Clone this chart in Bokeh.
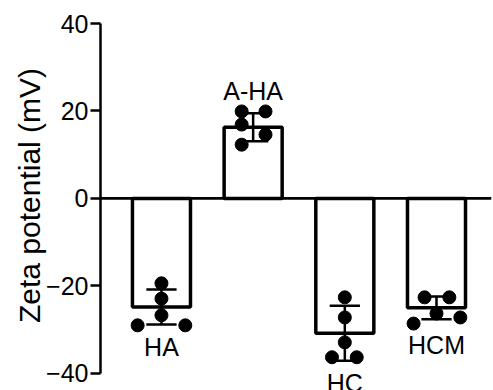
from bokeh.plotting import figure
from bokeh.models import ColumnDataSource, FixedTicker, Span, Range1d
from bokeh.core.properties import value
from bokeh.embed import file_html
from bokeh.resources import INLINE

# ---- data ----
categories = ["HA", "A-HA", "HC", "HCM"]
means = [-24.8, 16.3, -30.8, -25.0]
sds = [4.0, 3.2, 6.3, 2.6]
points_HA = [-19.4, -22.9, -26.7, -29.0, -29.0]
points_AHA = [19.9, 19.9, 16.9, 14.6, 12.3]
points_HC = [-22.6, -27.2, -32.9, -36.3, -36.3]
points_HCM = [-22.6, -22.6, -26.3, -27.2, -28.6]
y_ticks = [-40, -20, 0, 20, 40]

# ---- styling / layout helpers (not data) ----
jitter = [
    [0, 0, 0, -0.26, 0.26],
    [-0.125, 0.135, -0.125, 0.135, -0.125],
    [0, 0, 0, -0.14, 0.13],
    [-0.13, 0.14, 0, 0.26, -0.25],
]
all_points = [points_HA, points_AHA, points_HC, points_HCM]
FONT = "Liberation Sans"

xs = list(range(len(categories)))

p = figure(width=493, height=390, output_backend="svg", toolbar_location=None,
           x_range=Range1d(-0.665, 3.6), y_range=Range1d(-43.9, 45.26),
           min_border_left=100, min_border_right=2, min_border_top=0, min_border_bottom=0)
p.outline_line_color = None
p.xgrid.visible = False
p.ygrid.visible = False
p.xaxis.visible = False
p.background_fill_color = "white"
p.border_fill_color = "white"

# bars
bar_src = ColumnDataSource(dict(x=xs, top=means))
p.vbar(x="x", top="top", bottom=0, width=0.633, source=bar_src,
       fill_color="white", line_color="black", line_width=3.5)

# zero line
p.add_layout(Span(location=0, dimension="width", line_color="black", line_width=2.7))

# error bars
lo = [m - s for m, s in zip(means, sds)]
hi = [m + s for m, s in zip(means, sds)]
cap = 0.165
p.segment(x0=xs, x1=xs, y0=lo, y1=hi, line_color="black", line_width=2.5)
p.segment(x0=[x - cap for x in xs], x1=[x + cap for x in xs], y0=lo, y1=lo,
          line_color="black", line_width=2.5)
p.segment(x0=[x - cap for x in xs], x1=[x + cap for x in xs], y0=hi, y1=hi,
          line_color="black", line_width=2.5)

# points
px, py = [], []
for i, (pts, jit) in enumerate(zip(all_points, jitter)):
    for v, j in zip(pts, jit):
        px.append(i + j)
        py.append(v)
p.scatter(px, py, size=13, fill_color="black", line_color="black", marker="circle")

# labels
lab_y = []
for m, s, pts in zip(means, sds, all_points):
    if m < 0:
        lab_y.append(min(min(pts), m - s) - 5.0)
    else:
        lab_y.append(max(max(pts), m + s) + 4.7)
p.text(x=xs, y=lab_y, text=categories, text_align="center", text_baseline="alphabetic",
       text_font=value(FONT), text_font_size="25px", text_color="black")

# y axis
ax = p.yaxis[0]
ax.ticker = FixedTicker(ticks=y_ticks)
ax.bounds = (-40, 40)
ax.axis_label = "Zeta potential (mV)"
ax.axis_label_text_font = FONT
ax.axis_label_text_font_size = "30px"
ax.axis_label_text_font_style = "normal"
ax.axis_label_text_color = "black"
ax.axis_label_standoff = -3
ax.major_label_text_font = FONT
ax.major_label_text_font_size = "25px"
ax.major_label_text_color = "black"
ax.major_label_standoff = 2
ax.axis_line_color = "black"
ax.axis_line_width = 2.5
ax.major_tick_line_color = "black"
ax.major_tick_line_width = 2.5
ax.major_tick_in = 0
ax.major_tick_out = 10
ax.minor_tick_line_color = None

open("out.html", "w").write(file_html(p, INLINE))
